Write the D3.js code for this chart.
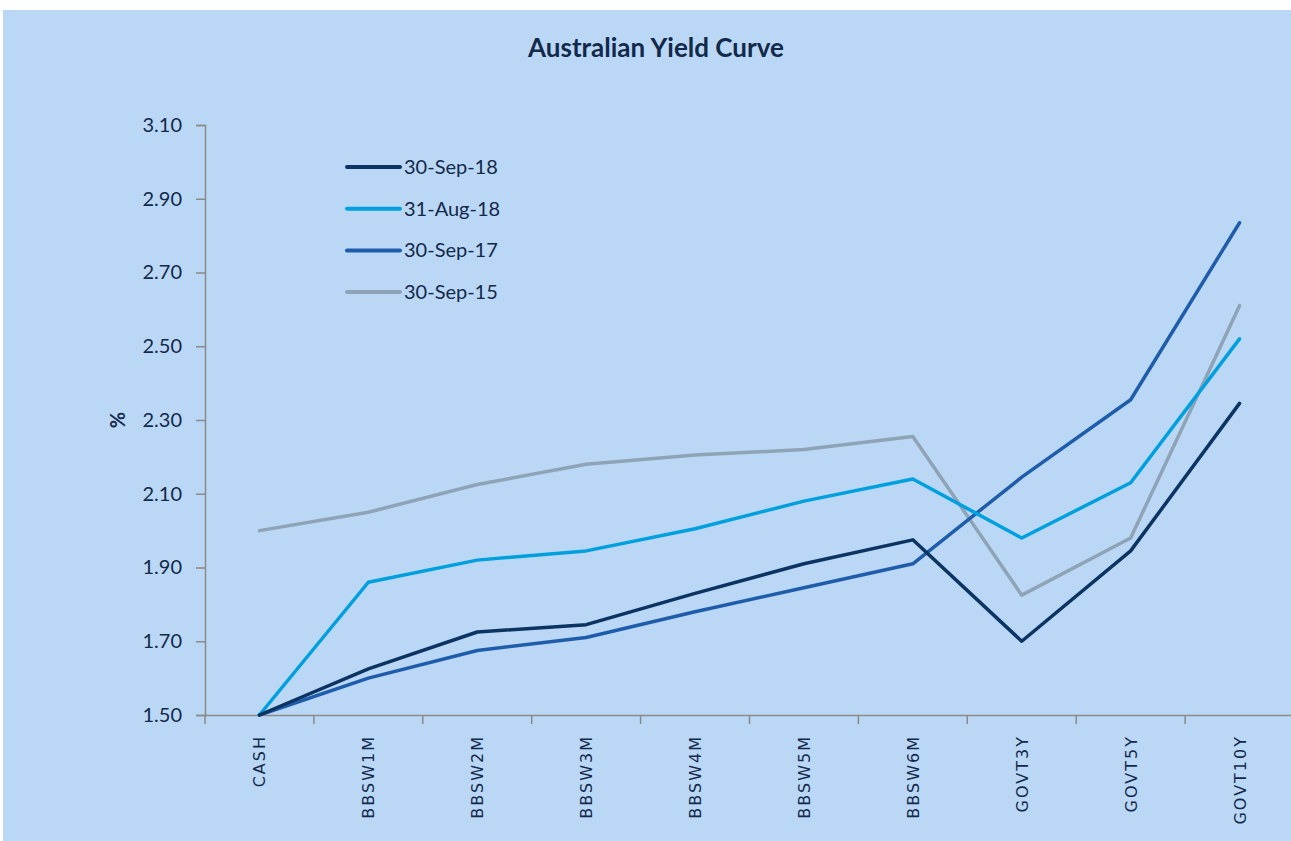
<!DOCTYPE html>
<html>
<head>
<meta charset="utf-8">
<script src="https://cdn.jsdelivr.net/npm/d3@7"></script>
<style>
  body { margin: 0; background: #fff; }
  text { font-family: Lato, "Open Sans", sans-serif; fill: #13294b; }
</style>
</head>
<body>
<div id="chart"></div>
<script>
// Chart data
var categories = ["CASH", "BBSW1M", "BBSW2M", "BBSW3M", "BBSW4M", "BBSW5M", "BBSW6M", "GOVT3Y", "GOVT5Y", "GOVT10Y"];
var seriesNames = ["30-Sep-18", "31-Aug-18", "30-Sep-17", "30-Sep-15"];
var sep18 = [1.50, 1.625, 1.725, 1.745, 1.83, 1.91, 1.975, 1.70, 1.945, 2.345];
var aug18 = [1.50, 1.86, 1.92, 1.945, 2.005, 2.08, 2.14, 1.98, 2.13, 2.52];
var sep17 = [1.50, 1.60, 1.675, 1.71, 1.78, 1.845, 1.91, 2.145, 2.355, 2.835];
var sep15 = [2.00, 2.05, 2.125, 2.18, 2.205, 2.22, 2.255, 1.825, 1.98, 2.61];
var yTicks = [1.50, 1.70, 1.90, 2.10, 2.30, 2.50, 2.70, 2.90, 3.10];

var seriesValues = [sep18, aug18, sep17, sep15];
var colors = ["#0b3463", "#00a0de", "#1f5dab", "#8fa3b7"];

var width = 1291, height = 841;

var svg = d3.select("#chart").append("svg")
            .attr("width", width)
            .attr("height", height);

// background panel
svg.append("rect")
   .attr("x", 3)
   .attr("y", 10)
   .attr("width", width - 3)
   .attr("height", height - 10)
   .attr("fill", "#bad8f5");

// Scales
var x = d3.scaleBand()
          .domain(categories)
          .range([205, 1294]);

var y = d3.scaleLinear()
          .domain([1.5, 3.1])
          .range([715, 125]);

// Title
svg.append("text")
   .attr("x", 656)
   .attr("y", 57)
   .attr("text-anchor", "middle")
   .style("font-size", "26px")
   .style("font-weight", "bold")
   .text("Australian Yield Curve");

// Y axis
var yAxis = svg.append("g")
               .attr("transform", "translate(205,0)")
               .call(d3.axisLeft(y).tickValues(yTicks).tickFormat(d3.format(".2f")).tickSize(9).tickPadding(14));
yAxis.selectAll("text").style("font-size", "20px").attr("fill", "#13294b");

// X axis
var xAxis = svg.append("g")
               .attr("transform", "translate(0,715)")
               .call(d3.axisBottom(x).tickSize(0).tickFormat(""));
xAxis.selectAll(".tick").remove();

// x tick marks at band boundaries
var bounds = categories.map(function(c) { return x(c); });
svg.selectAll(".xtick")
   .data(bounds)
   .enter().append("line")
   .attr("x1", function(d) { return d; })
   .attr("x2", function(d) { return d; })
   .attr("y1", 715)
   .attr("y2", 724)
   .attr("stroke", "#8a8a8a")
   .attr("stroke-width", 1.5);

svg.selectAll(".domain").attr("stroke", "#8a8a8a").attr("stroke-width", 1.5);
svg.selectAll(".tick line").attr("stroke", "#8a8a8a").attr("stroke-width", 1.5);

// x labels, rotated
svg.selectAll(".xlabel")
   .data(categories)
   .enter().append("text")
   .attr("transform", function(d) {
     return "translate(" + (x(d) + x.bandwidth() / 2 + 6) + ",735) rotate(-90)";
   })
   .attr("text-anchor", "end")
   .style("font-family", "'DejaVu Sans', sans-serif")
   .style("font-size", "16px")
   .style("letter-spacing", "2px")
   .text(function(d) { return d; });

// Y label
svg.append("text")
   .attr("transform", "translate(125,420) rotate(-90)")
   .attr("text-anchor", "middle")
   .style("font-size", "20px")
   .style("font-weight", "bold")
   .text("%");

// Lines
var line = d3.line()
             .x(function(d, i) { return x(categories[i]) + x.bandwidth() / 2; })
             .y(function(d) { return y(d); });

// draw so that order on top matches reference
var drawOrder = [3, 2, 1, 0];
drawOrder.forEach(function(k) {
  svg.append("path")
     .datum(seriesValues[k])
     .attr("d", line)
     .attr("fill", "none")
     .attr("stroke", colors[k])
     .attr("stroke-width", 3.5)
     .attr("stroke-linejoin", "round")
     .attr("stroke-linecap", "round");
});

// Legend
var legend = svg.selectAll(".legend")
                .data(seriesNames)
                .enter().append("g")
                .attr("transform", function(d, i) { return "translate(347," + (167 + i * 41.7) + ")"; });

legend.append("line")
      .attr("x1", 0)
      .attr("x2", 53)
      .attr("stroke", function(d, i) { return colors[i]; })
      .attr("stroke-width", 4)
      .attr("stroke-linecap", "round");

legend.append("text")
      .attr("x", 57)
      .attr("dy", "0.35em")
      .style("font-size", "20px")
      .text(function(d) { return d; });
</script>
</body>
</html>
